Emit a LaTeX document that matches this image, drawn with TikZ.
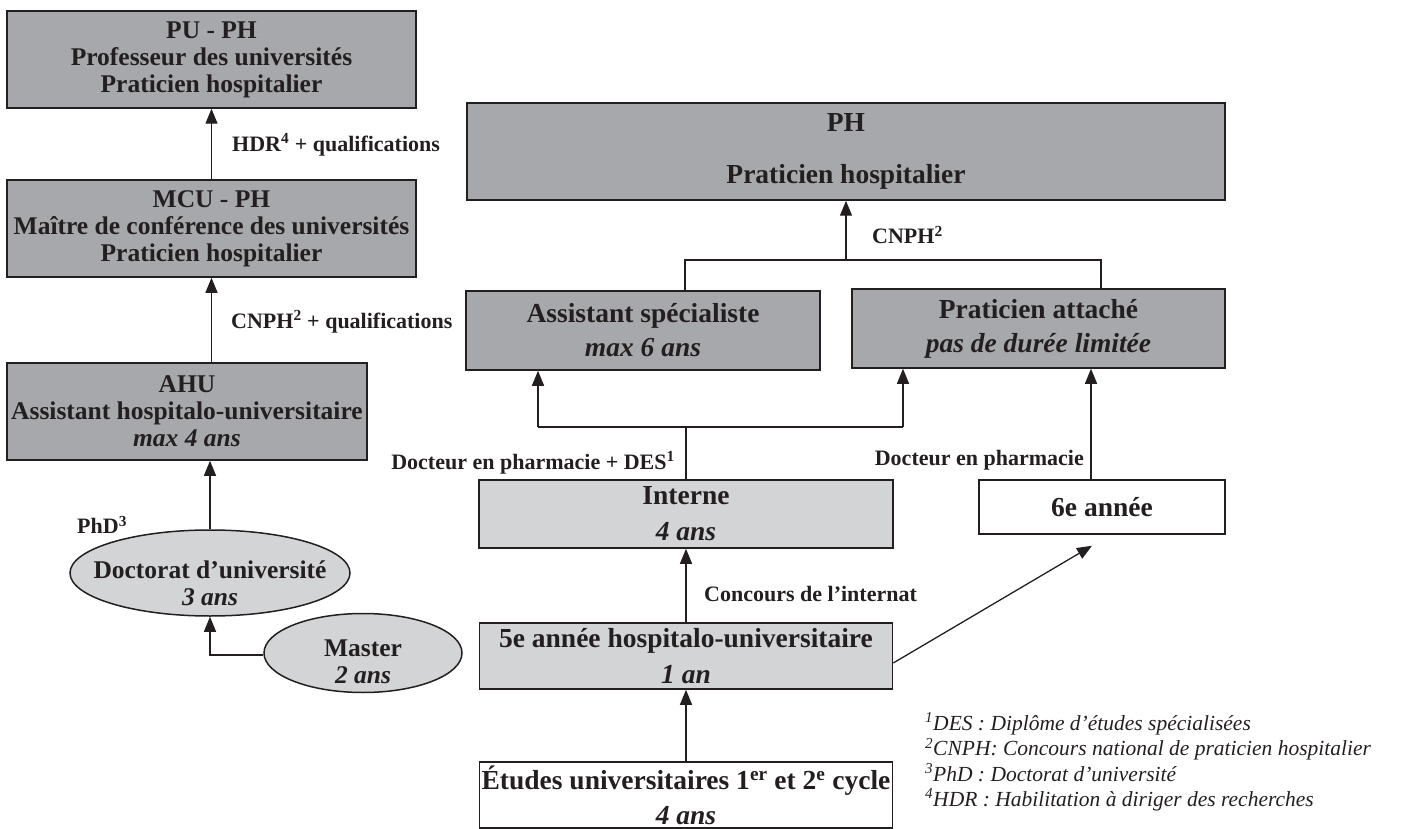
\documentclass[tikz,border=0pt]{standalone}
\usepackage{fontspec}
\setmainfont{Liberation Serif}
\usetikzlibrary{arrows.meta,shapes.geometric}

\definecolor{ink}{RGB}{35,31,32}
\definecolor{boxdark}{RGB}{167,168,171}
\definecolor{boxlight}{RGB}{211,212,214}

\tikzset{
  chartbox/.style={draw=ink, line width=1.5pt, rectangle, inner sep=0pt, align=center, text=ink},
  leftfont/.style={font=\fontsize{25.5}{27}\selectfont\bfseries},
  rightfont/.style={font=\fontsize{27.5}{29}\selectfont\bfseries},
  darkbox/.style={chartbox, fill=boxdark},
  lightbox/.style={chartbox, fill=boxlight},
  whitebox/.style={chartbox, fill=white},
  ovalbox/.style={chartbox, ellipse, fill=boxlight},
  ovaltext/.style={leftfont, text=ink, align=center, inner sep=0pt},
  joinline/.style={draw=ink, line width=1.3pt},
  flow/.style={joinline, -{Triangle[length=15pt,width=12pt]}},
  steplabel/.style={font=\fontsize{22}{26}\selectfont\bfseries, text=ink, inner sep=0pt},
  notetext/.style={font=\fontsize{21.5}{25.3}\selectfont\itshape, text=ink, align=left, inner sep=0pt}
}

\begin{document}
\begin{tikzpicture}[x=1pt, y=-1pt]
  \useasboundingbox (0,0) rectangle (1406,829);

  % hospitalo-universitaire
  \node[darkbox, leftfont, minimum width=409pt, minimum height=97pt] (puph) at (211.5,59.5)
    {PU - PH\\Professeur des universités\\Praticien hospitalier};
  \node[darkbox, leftfont, minimum width=409pt, minimum height=97pt] (mcu) at (211.5,228.5)
    {MCU - PH\\Maître de conférence des universités\\Praticien hospitalier};
  \node[darkbox, leftfont, minimum width=360pt, minimum height=97pt] (ahu) at (187,411.5)
    {AHU\\Assistant hospitalo-universitaire\\\textit{max 4 ans}};
  \node[ovalbox, minimum width=280pt, minimum height=86pt] (doct) at (210,573) {};
  \node[ovaltext] (docttext) at (210,583) {Doctorat d’université\\\textit{3 ans}};
  \node[ovalbox, minimum width=198pt, minimum height=79pt] (master) at (363,653) {};
  \node[ovaltext] (mastertext) at (363,662) {Master\\\textit{2 ans}};

  % hospitalier
  \node[darkbox, rightfont, minimum width=758pt, minimum height=97pt] (ph) at (846,151.5)
    {PH\\[23pt]Praticien hospitalier};
  \node[darkbox, rightfont, minimum width=354pt, minimum height=79pt] (asp) at (643,330.5)
    {Assistant spécialiste\\[5pt]\textit{max 6 ans}};
  \node[darkbox, rightfont, minimum width=373pt, minimum height=79pt] (patt) at (1038.5,328.5)
    {Praticien attaché\\[5pt]\textit{pas de durée limitée}};
  \node[lightbox, rightfont, minimum width=414pt, minimum height=68pt] (interne) at (686,514)
    {Interne\\[7pt]\textit{4 ans}};
  \node[whitebox, rightfont, minimum width=246pt, minimum height=54pt] (sixe) at (1102,507)
    {6e année};
  \node[lightbox, rightfont, minimum width=413pt, minimum height=66pt] (cinq) at (686,656)
    {5e année hospitalo-universitaire\\[7pt]\textit{1 an}};
  \node[whitebox, rightfont, minimum width=413pt, minimum height=66pt] (etudes) at (686,795)
    {Études universitaires 1\textsuperscript{er} et 2\textsuperscript{e} cycle\\[6pt]\textit{4 ans}};

  \draw[flow] (mcu) -- (puph);
  \draw[flow] (ahu.north -| mcu.south) -- (mcu.south);
  \draw[flow] (doct.north) -- (doct.north |- ahu.south);
  \draw[flow] ([yshift=-2pt]master.west) -| (doct.south);

  \draw[flow] (etudes) -- (cinq);
  \draw[flow] (cinq) -- (interne);
  \draw[flow] ([yshift=-7pt]cinq.east) -- ([xshift=-10pt,yshift=-11pt]sixe.south);
  \draw[flow] ([xshift=-11pt]sixe.north) -- ([xshift=-11pt]sixe.north |- patt.south);

  \coordinate (asplink) at (538,427);
  \coordinate (pattlink) at (903,427);
  \draw[joinline] (interne.north) -- (interne.north |- asplink);
  \draw[joinline] (asplink) -- (pattlink);
  \draw[flow] (asplink) -- (asplink |- asp.south);
  \draw[flow] (pattlink) -- (pattlink |- patt.south);

  \coordinate (aspup) at (685,260);
  \coordinate (pattup) at (1101,260);
  \draw[joinline] (aspup |- asp.north) -- (aspup) -- (pattup) -- (pattup |- patt.north);
  \draw[flow] (ph.south |- aspup) -- (ph.south);

  \node[steplabel, anchor=west] (hdr) at (232,145) {HDR\textsuperscript{4} + qualifications};
  \node[steplabel, anchor=west] (cnphq) at (231,322) {CNPH\textsuperscript{2} + qualifications};
  \node[steplabel, anchor=west] (phd) at (77,525) {PhD\textsuperscript{3}};
  \node[steplabel, anchor=west] (cnph) at (872,235) {CNPH\textsuperscript{2}};
  \node[steplabel, anchor=east] (docdes) at (675,463) {Docteur en pharmacie + DES\textsuperscript{1}};
  \node[steplabel, anchor=east] (doc) at (1084,460) {Docteur en pharmacie};
  \node[steplabel, anchor=west] (concours) at (704,594) {Concours de l’internat};

  \node[notetext, anchor=west] (notes) at (925,762)
    {\textsuperscript{1}DES : Diplôme d’études spécialisées\\
     \textsuperscript{2}CNPH: Concours national de praticien hospitalier\\
     \textsuperscript{3}PhD : Doctorat d’université\\
     \textsuperscript{4}HDR : Habilitation à diriger des recherches};
\end{tikzpicture}
\end{document}
